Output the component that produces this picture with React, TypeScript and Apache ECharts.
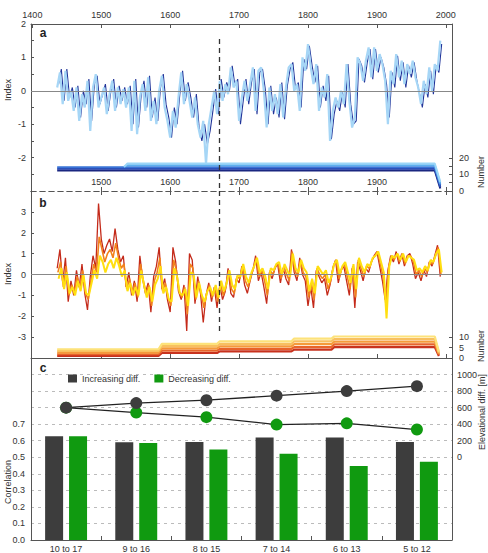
import React, { useEffect, useRef } from "react";
import * as echarts from "echarts";

// ---------- DATA ----------
const yearStep = 4;

// Panel a (index, blue)
const lightStartA = 1436;
const indexALight = [
  0.1, 0.55, -0.4, 0.6, -0.3, 0.0, -0.6, 0.1, -0.9, -0.1,
  -0.5, 0.3, -1.2, 0.1, 0.5, -0.5, -0.2, 0.1, -0.7, -0.1,
  0.3, -0.6, 0.1, -0.4, 0.05, -0.5, 0.1, -1.2, 0.3, -1.3,
  -0.2, 0.2, -0.6, 0.4, -0.9, -0.3, -1.0, 0.0, 0.45, -0.5,
  -0.9, -1.4, -0.6, -1.1, -0.2, 0.55, -0.4, 0.2, -0.3, -0.8,
  -0.2, -1.0, -1.4, -0.9, -2.2, -1.0, -0.5, 0.0, -0.7, 0.3,
  -0.3, 0.2, -0.1, 0.7, 0.1, 0.3, -0.9, -0.2, 0.3, -0.3,
  0.2, 0.7, -0.6, 0.6, 0.7, 0.0, -1.1, 0.1, -0.6, -0.1,
  -0.7, 0.2, -0.8, 0.1, 0.7, 0.8, 0.0, 0.2, -0.6, 1.0,
  0.6, 1.4, 0.7, 0.2, 0.8, -0.6, 0.1, -0.2, 0.5, -1.5,
  -0.6, -0.2, -0.5, 0.0, -0.4, 0.8, -0.3, -1.1, -0.8, 1.0,
  0.8, 0.3, 0.9, 1.3, 0.4, 1.3, 0.6, 1.1, 0.8, 0.3,
  -1.0, 0.6, 0.2, 1.1, 0.4, 0.9, 0.2, 0.8, 0.5, 0.9,
  0.4, 0.1, -0.4, 0.3, -0.1, 0.7, 0.0, 0.8, 0.6, 1.5,
];
const darkStartA = 1438;
const indexADark = [
  0.2, 0.65, -0.3, 0.65, -0.2, 0.1, -0.5, 0.15, -0.8, 0.0,
  -0.4, 0.35, -0.9, 0.2, 0.45, -0.4, -0.1, 0.2, -0.6, 0.0,
  0.35, -0.5, 0.15, -0.3, 0.1, -0.4, 0.15, -1.0, 0.35, -1.1,
  -0.1, 0.3, -0.5, 0.45, -0.8, -0.2, -0.9, 0.1, 0.5, -0.4,
  -0.8, -1.4, -0.5, -1.0, -0.1, 0.6, -0.3, 0.25, -0.2, -0.8,
  -0.1, -1.1, -1.5, -1.0, -1.6, -1.2, -0.6, 0.05, -0.7, 0.35,
  -0.2, 0.25, 0.0, 0.75, 0.15, 0.35, -1.0, -0.3, 0.35, -0.4,
  0.25, 0.65, -0.7, 0.55, 0.65, 0.05, -1.0, 0.15, -0.7, -0.2,
  -0.8, 0.25, -0.85, 0.15, 0.65, 0.85, 0.05, 0.25, -0.5, 0.95,
  0.65, 1.35, 0.75, 0.25, 0.75, -0.5, 0.15, -0.3, 0.45, -1.45,
  -0.7, -0.3, -0.6, -0.05, -0.5, 0.8, -0.4, -1.0, -0.9, 0.95,
  0.75, 0.25, 0.85, 1.25, 0.35, 1.25, 0.55, 1.0, 0.7, 0.2,
  -0.8, 0.55, 0.1, 1.05, 0.3, 0.85, 0.1, 0.75, 0.4, 0.85,
  0.3, -0.1, -0.5, 0.2, -0.2, 0.6, -0.1, 0.75, 0.55, 1.4,
];

// Panel b (index, red/orange/yellow)
const redStartB = 1436;
const indexBRed = [
  0.3, 1.2, -0.4, 0.8, -1.3, -0.3, -1.0, 0.2, -0.6, 0.5,
  -0.9, -1.7, -0.1, 0.9, 0.3, 3.4, 1.7, 1.0, 1.4, 1.7,
  1.1, 2.2, 1.2, 0.6, 0.9, -0.6, 0.1, -1.0, -0.3, -1.3,
  0.9, -0.2, -0.9, -0.4, -1.8, -0.1, 0.4, 1.3, -0.7, -0.2,
  -1.2, -1.8, 1.3, 0.6, -0.8, -1.2, -0.5, -2.7, 1.0, 0.7,
  -1.4, -0.1, -0.9, -2.3, -1.0, -0.4, -1.3, -0.6, -1.6, -0.5,
  -1.2, -0.8, 0.3, -0.9, -1.1, -0.2, -0.4, 0.4, -0.5, -0.9,
  -0.3, 0.2, 0.9, -0.3, 0.1, -0.6, -1.4, 0.1, -0.2, 0.3,
  0.5, -0.4, 0.3, -0.2, -0.5, 1.2, 0.1, -0.3, 0.8, 0.0,
  -0.3, -1.5, -0.6, -1.6, 0.2, -0.1, -0.4, -0.2, -1.0, -0.5,
  0.3, 0.7, -0.4, 0.2, 0.4, -0.3, -1.0, 0.3, -1.6, 0.6,
  0.2, -0.3, 0.3, 0.1, 0.6, 0.9, 1.1, 0.4, -0.3, -1.2,
  0.2, 0.9, 0.6, 1.1, 0.5, 1.0, 0.4, 0.9, 1.0, 0.5,
  -0.2, 0.1, -0.3, 0.2, -0.1, 0.6, 0.4, 0.9, 1.4, -0.1,
];
const orangeStartB = 1437;
const indexBOrange = [
  0.1, 0.6, -0.6, 0.4, -1.0, -0.5, -0.8, -0.1, -0.7, 0.2,
  -0.9, -1.2, -0.3, 0.5, 0.1, 1.8, 1.2, 0.6, 1.0, 1.2,
  0.8, 1.5, 0.8, 0.3, 0.5, -0.7, -0.2, -0.9, -0.4, -1.1,
  0.5, -0.3, -0.9, -0.5, -1.5, -0.3, 0.1, 0.8, -0.8, -0.4,
  -1.1, -1.5, 0.7, 0.2, -0.8, -1.1, -0.6, -1.9, 0.5, 0.3,
  -1.2, -0.3, -0.9, -1.6, -0.9, -0.5, -1.1, -0.6, -1.3, -0.4,
  -1.0, -0.6, 0.2, -0.7, -0.9, -0.1, -0.2, 0.4, -0.3, -0.6,
  -0.1, 0.3, 0.8, -0.1, 0.2, -0.3, -1.0, 0.2, 0.0, 0.4,
  0.5, -0.2, 0.4, 0.0, -0.3, 1.1, 0.2, -0.1, 0.7, 0.1,
  -0.1, -1.1, -0.4, -1.2, 0.3, 0.0, -0.2, 0.0, -0.7, -0.3,
  0.4, 0.7, -0.2, 0.3, 0.5, -0.1, -0.7, 0.4, -1.1, 0.7,
  0.3, -0.1, 0.4, 0.3, 0.7, 0.9, 1.1, 0.5, -0.1, -1.4,
  0.3, 0.9, 0.7, 1.0, 0.6, 1.0, 0.5, 0.9, 0.9, 0.6,
  0.0, 0.2, -0.1, 0.3, 0.1, 0.6, 0.5, 0.9, 1.3, 0.0,
];
const yellowStartB = 1438;
const indexBYellow = [
  -0.2, 0.3, -0.7, 0.1, -0.9, -0.6, -1.0, -0.3, -0.8, 0.0,
  -0.9, -1.0, -0.4, 0.2, -0.2, 0.9, 0.6, 0.1, 0.5, 0.7,
  0.3, 0.8, 0.4, -0.1, 0.2, -0.8, -0.4, -1.0, -0.6, -1.0,
  0.2, -0.5, -1.1, -0.6, -1.3, -0.5, -0.2, 0.4, -0.9, -0.6,
  -1.2, -1.3, 0.3, -0.1, -0.9, -1.0, -0.7, -1.5, 0.1, 0.0,
  -1.1, -0.4, -1.0, -1.3, -0.8, -0.6, -1.0, -0.5, -1.1, -0.3,
  -0.8, -0.4, 0.2, -0.5, -0.7, 0.0, -0.1, 0.5, -0.1, -0.4,
  0.1, 0.4, 0.8, 0.1, 0.3, -0.1, -0.7, 0.3, 0.2, 0.5,
  0.6, 0.0, 0.5, 0.2, -0.1, 1.0, 0.3, 0.1, 0.7, 0.3,
  0.1, -0.8, -0.2, -0.9, 0.4, 0.2, 0.0, 0.2, -0.4, -0.1,
  0.5, 0.7, 0.0, 0.4, 0.6, 0.1, -0.4, 0.5, -0.7, 0.8,
  0.4, 0.1, 0.5, 0.4, 0.8, 0.9, 1.1, 0.6, 0.1, -2.1,
  0.4, 0.9, 0.8, 1.0, 0.7, 1.0, 0.6, 0.9, 0.8, 0.7,
  0.2, 0.3, 0.1, 0.4, 0.2, 0.7, 0.6, 1.0, 1.2, 0.1,
];

// Sample depth (Number)
const depthYearsA = [1436, 1533, 1538, 1984, 1992];
const depthA = [
  [12.4, 12.4, 12.4, 12.4, 1.5],
  [13.4, 13.4, 13.4, 13.4, 2.5],
  [14.4, 14.4, 14.4, 14.4, 3.5],
  [null, 14.6, 15.6, 15.6, 4.5],
  [null, 14.6, 16.6, 16.6, 5.5],
];
const depthYearsB = [1436, 1583, 1588, 1668, 1672, 1776, 1780, 1834, 1838, 1984, 1990];
const depthB = [
  [1.0, 1.0, 2.4, 2.4, 3.2, 3.2, 4.0, 4.0, 5.2, 5.2, 1.0],
  [1.8, 1.8, 3.5, 3.5, 4.4, 4.4, 5.2, 5.2, 6.5, 6.5, 1.5],
  [2.6, 2.6, 4.6, 4.6, 5.6, 5.6, 6.6, 6.6, 7.8, 7.8, 2.0],
  [3.4, 3.4, 5.7, 5.7, 6.8, 6.8, 8.0, 8.0, 9.1, 9.1, 2.5],
  [4.2, 4.2, 6.8, 6.8, 8.0, 8.0, 9.3, 9.3, 10.3, 10.3, 3.0],
];

// Panel c
const categories = ["10 to 17", "9 to 16", "8 to 15", "7 to 14", "6 to 13", "5 to 12"];
const corrIncreasing = [0.627, 0.591, 0.593, 0.62, 0.62, 0.593];
const corrDecreasing = [0.627, 0.587, 0.547, 0.521, 0.448, 0.473];
const elevIncreasing = [600, 655, 690, 745, 800, 860];
const elevDecreasing = [600, 540, 485, 395, 410, 335];

// Tick labels
const topYearLabels = [1400, 1500, 1600, 1700, 1800, 1900, 2000];
const innerYearLabels = [1500, 1600, 1700, 1800, 1900];
const yearTicks = [1500, 1600, 1700, 1800, 1900, 2000];
const indexALabels = [-2, -1, 0, 1, 2];
const indexATicks = [-2.5, -2, -1.5, -1, -0.5, 0, 0.5, 1, 1.5, 2];
const indexBLabels = [-3, -2, -1, 0, 1, 2, 3];
const numberALabels = [0, 10, 20];
const numberATicks = [0, 5, 10, 15, 20];
const numberBLabels = [0, 5, 10];
const elevLabels = [0, 200, 400, 600, 800, 1000];
const markerYear = 1671;

// ---------- STYLE ----------
const FONT = "'Liberation Sans', Arial, sans-serif";
const AX = "#555";
const TXT = "#333";
const blueDepthColors = ["#1a2680", "#2846b0", "#3a74d6", "#5db0ee", "#9ad6f8"];
const warmDepthColors = ["#c8321e", "#e8642a", "#f59a3a", "#f8c060", "#fde27a"];

const toPairs = (start: number, arr: number[]) => arr.map((v, i) => [start + i * yearStep, v]);
const depthPairs = (years: number[], row: (number | null)[]) => years.map((y, i) => [y, row[i]]);
const plain = (v: number) => String(v);

function buildOption() {
  const xMin = 1398;
  const xMax = 2009;
  const lineCol = { color: AX, width: 1 };
  const dashedCol = { color: AX, width: 1, type: [5, 4] as any };
  const lbl = { fontSize: 9, color: TXT, fontFamily: FONT };

  const series: any[] = [];

  // Panel a
  series.push({
    type: "line", name: "a-dark", xAxisIndex: 0, yAxisIndex: 0,
    data: toPairs(darkStartA, indexADark), showSymbol: false, symbol: "none",
    lineStyle: { color: "#22359a", width: 1.1 }, z: 2,
    markLine: {
      silent: true, symbol: ["none", "none"], label: { show: false },
      data: [
        { yAxis: 0, lineStyle: { color: "#888", width: 1, type: "solid" } },
        [
          { coord: [markerYear, 1.55], lineStyle: { color: "#333", width: 1.3, type: [5, 4] } },
          { coord: [markerYear, -3] },
        ],
      ],
    },
  });
  series.push({
    type: "line", name: "a-light", xAxisIndex: 0, yAxisIndex: 0,
    data: toPairs(lightStartA, indexALight), showSymbol: false, symbol: "none",
    lineStyle: { color: "#a6d6f6", width: 2.2 }, z: 3,
  });
  depthA.forEach((row, k) => {
    series.push({
      type: "line", name: "a-depth-" + k, xAxisIndex: 0, yAxisIndex: 1,
      data: depthPairs(depthYearsA, row), showSymbol: false, symbol: "none",
      lineStyle: { color: blueDepthColors[k], width: 2 }, z: 3,
    });
  });

  // Panel b
  series.push({
    type: "line", name: "b-red", xAxisIndex: 2, yAxisIndex: 2,
    data: toPairs(redStartB, indexBRed), showSymbol: false, symbol: "none",
    lineStyle: { color: "#c42a1a", width: 1.3 }, z: 2,
    markLine: {
      silent: true, symbol: ["none", "none"], label: { show: false },
      data: [
        { yAxis: 0, lineStyle: { color: "#888", width: 1, type: "solid" } },
        [
          { coord: [markerYear, 4], lineStyle: { color: "#333", width: 1.3, type: [5, 4] } },
          { coord: [markerYear, -2.8] },
        ],
      ],
    },
  });
  series.push({
    type: "line", name: "b-orange", xAxisIndex: 2, yAxisIndex: 2,
    data: toPairs(orangeStartB, indexBOrange), showSymbol: false, symbol: "none",
    lineStyle: { color: "#f2821c", width: 1.6 }, z: 3,
  });
  series.push({
    type: "line", name: "b-yellow", xAxisIndex: 2, yAxisIndex: 2,
    data: toPairs(yellowStartB, indexBYellow), showSymbol: false, symbol: "none",
    lineStyle: { color: "#ffdf10", width: 2 }, z: 4,
  });
  depthB.forEach((row, k) => {
    series.push({
      type: "line", name: "b-depth-" + k, xAxisIndex: 2, yAxisIndex: 3,
      data: depthPairs(depthYearsB, row), showSymbol: false, symbol: "none",
      lineStyle: { color: warmDepthColors[k], width: 2.2 }, z: 3,
    });
  });

  // Panel c
  series.push({
    type: "bar", name: "Increasing diff.", xAxisIndex: 4, yAxisIndex: 4,
    data: corrIncreasing, barWidth: 18, barGap: "33%",
    itemStyle: { color: "#3d3d3d" },
  });
  series.push({
    type: "bar", name: "Decreasing diff.", xAxisIndex: 4, yAxisIndex: 4,
    data: corrDecreasing, barWidth: 18, barGap: "33%",
    itemStyle: { color: "#109a10" },
  });
  series.push({
    type: "line", name: "Decreasing elev.", xAxisIndex: 4, yAxisIndex: 5,
    data: elevDecreasing, symbol: "circle", symbolSize: 12, showSymbol: true,
    lineStyle: { color: "#222", width: 1.3 }, itemStyle: { color: "#109a10" }, z: 5,
  });
  series.push({
    type: "line", name: "Increasing elev.", xAxisIndex: 4, yAxisIndex: 5,
    data: elevIncreasing, symbol: "circle", symbolSize: 12, showSymbol: true,
    lineStyle: { color: "#222", width: 1.3 }, itemStyle: { color: "#3d3d3d" }, z: 6,
  });

  const vText = (text: string, x: number, y: number) => ({
    type: "text", x, y, rotation: Math.PI / 2,
    style: {
      text, fill: TXT, font: "9px " + FONT,
      textAlign: "center", textVerticalAlign: "middle", align: "center", verticalAlign: "middle",
    },
  });
  const pText = (text: string, x: number, y: number) => ({
    type: "text", x, y,
    style: {
      text, fill: "#222", font: "bold 12px " + FONT,
      textAlign: "center", textVerticalAlign: "middle", align: "center", verticalAlign: "middle",
    },
  });

  return {
    animation: false,
    backgroundColor: "#fff",
    textStyle: { fontFamily: FONT },
    grid: [
      { left: 31, top: 24, width: 421, height: 167 },
      { left: 31, top: 191, width: 421, height: 167 },
      { left: 31, top: 358, width: 421, height: 184 },
    ],
    legend: {
      data: ["Increasing diff.", "Decreasing diff."],
      left: 63, top: 369, icon: "rect", itemWidth: 9, itemHeight: 8, itemGap: 14,
      textStyle: { fontSize: 9, color: TXT, fontFamily: FONT },
    },
    xAxis: [
      {
        gridIndex: 0, type: "value", position: "top", min: xMin, max: xMax,
        axisLine: { show: true, onZero: false, lineStyle: lineCol },
        axisTick: { show: true, inside: true, length: 4, customValues: topYearLabels, lineStyle: lineCol },
        axisLabel: { show: true, customValues: topYearLabels, margin: 5, formatter: plain, ...lbl },
        splitLine: { show: false },
      },
      {
        gridIndex: 0, type: "value", position: "bottom", min: xMin, max: xMax,
        axisLine: { show: true, onZero: false, lineStyle: dashedCol },
        axisTick: { show: true, inside: true, length: 4, customValues: yearTicks, lineStyle: lineCol },
        axisLabel: { show: true, inside: true, customValues: innerYearLabels, margin: 5, formatter: plain, ...lbl },
        splitLine: { show: false },
      },
      {
        gridIndex: 1, type: "value", position: "top", min: xMin, max: xMax,
        axisLine: { show: true, onZero: false, lineStyle: dashedCol },
        axisTick: { show: true, inside: true, length: 4, customValues: yearTicks, lineStyle: lineCol },
        axisLabel: { show: false },
        splitLine: { show: false },
      },
      {
        gridIndex: 1, type: "value", position: "bottom", min: xMin, max: xMax,
        axisLine: { show: true, onZero: false, lineStyle: lineCol },
        axisTick: { show: true, inside: true, length: 4, customValues: yearTicks, lineStyle: lineCol },
        axisLabel: { show: false },
        splitLine: { show: false },
      },
      {
        gridIndex: 2, type: "category", data: categories, position: "bottom",
        axisLine: { show: true, onZero: false, lineStyle: lineCol },
        axisTick: { show: true, inside: true, length: 4, lineStyle: lineCol },
        axisLabel: { show: true, margin: 4, ...lbl },
        splitLine: { show: false },
      },
    ],
    yAxis: [
      {
        gridIndex: 0, type: "value", position: "left", min: -3, max: 2,
        axisLine: { show: true, onZero: false, lineStyle: lineCol },
        axisTick: { show: true, inside: true, length: 3, customValues: indexATicks, lineStyle: lineCol },
        axisLabel: { show: true, customValues: indexALabels, margin: 5, formatter: plain, ...lbl },
        splitLine: { show: false },
      },
      {
        gridIndex: 0, type: "value", position: "right", min: 0, max: 101,
        axisLine: { show: true, onZero: false, lineStyle: lineCol },
        axisTick: { show: true, inside: true, length: 3, customValues: numberATicks, lineStyle: lineCol },
        axisLabel: { show: true, customValues: numberALabels, margin: 7, formatter: plain, ...lbl },
        splitLine: { show: false },
      },
      {
        gridIndex: 1, type: "value", position: "left", min: -4, max: 4,
        axisLine: { show: true, onZero: false, lineStyle: lineCol },
        axisTick: { show: true, inside: true, length: 3, customValues: indexBLabels, lineStyle: lineCol },
        axisLabel: { show: true, customValues: indexBLabels, margin: 5, formatter: plain, ...lbl },
        splitLine: { show: false },
      },
      {
        gridIndex: 1, type: "value", position: "right", min: 0, max: 80,
        axisLine: { show: true, onZero: false, lineStyle: lineCol },
        axisTick: { show: true, inside: true, length: 3, customValues: numberBLabels, lineStyle: lineCol },
        axisLabel: { show: true, customValues: numberBLabels, margin: 7, formatter: plain, ...lbl },
        splitLine: { show: false },
      },
      {
        gridIndex: 2, type: "value", position: "left", min: 0, max: 1.1, interval: 0.1,
        axisLine: { show: true, onZero: false, lineStyle: lineCol },
        axisTick: { show: false },
        axisLabel: {
          show: true, margin: 6, ...lbl,
          formatter: (v: number) => (v <= 0.75 ? v.toFixed(1) : ""),
        },
        splitLine: { show: true, lineStyle: { color: "#bbb", width: 1, type: [3, 4] } },
      },
      {
        gridIndex: 2, type: "value", position: "right", min: -1000, max: 1200, interval: 200,
        axisLine: { show: true, onZero: false, lineStyle: lineCol },
        axisTick: { show: false },
        axisLabel: { show: true, customValues: elevLabels, margin: 5, formatter: plain, ...lbl },
        splitLine: { show: false },
      },
    ],
    graphic: [
      pText("a", 43, 33),
      pText("b", 43, 203),
      pText("c", 43, 368),
      vText("Index", 8, 90),
      vText("Index", 8, 274),
      vText("Correlation", 8, 482),
      vText("Number", 481, 172),
      vText("Number", 481, 346),
      vText("Elevational diff. [m]", 482, 412),
    ],
    series,
  };
}

export default function App() {
  const ref = useRef<HTMLDivElement>(null);
  useEffect(() => {
    if (!ref.current) return;
    const chart = echarts.init(ref.current, null, { renderer: "svg" });
    chart.setOption(buildOption() as any);
    return () => chart.dispose();
  }, []);
  return (
    <div
      ref={ref}
      style={{ position: "absolute", left: 0, top: 0, width: 488, height: 553, background: "#fff" }}
    />
  );
}
